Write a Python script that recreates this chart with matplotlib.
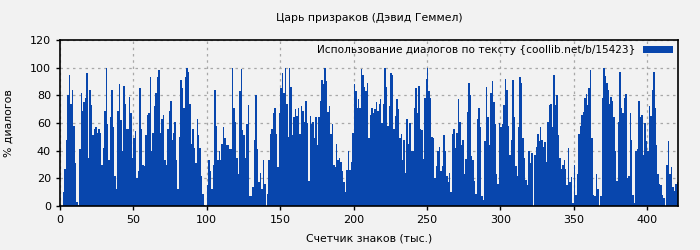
import numpy as np
import matplotlib
matplotlib.use("Agg")
import matplotlib.pyplot as plt

# % of dialogue per 1000 characters, bars start at 2 thousand chars
first_k = 2
dialog_pct = [
    10, 27, 48, 80, 95, 74, 84, 58, 31, 3,
    1, 41, 82, 69, 75, 78, 96, 35, 84, 73,
    51, 56, 57, 53, 56, 53, 30, 42, 69, 100,
    59, 33, 64, 84, 57, 22, 12, 69, 88, 62,
    40, 87, 74, 56, 56, 79, 67, 35, 49, 54,
    20, 25, 85, 56, 30, 29, 51, 66, 67, 93,
    40, 53, 72, 82, 93, 98, 53, 63, 66, 33,
    30, 56, 69, 76, 48, 53, 61, 33, 12, 50,
    91, 85, 71, 93, 100, 97, 74, 45, 56, 42,
    31, 63, 51, 42, 22, 9, 1, 0,
    # 100..140
    15, 33, 25, 12, 30, 84, 58, 33, 40, 33,
    45, 57, 49, 44, 44, 41, 41, 100, 71, 61,
    35, 23, 83, 99, 55, 51, 35, 59, 73, 7,
    7, 14, 48, 80, 41, 17, 24, 12, 33, 16,
    0,
    # 141..210
    9, 33, 52, 56, 67, 71, 52, 28, 67, 85,
    96, 82, 100, 74, 50, 100, 86, 51, 64, 70,
    65, 71, 52, 72, 69, 61, 76, 60, 18, 65,
    59, 61, 49, 64, 44, 64, 76, 91, 88, 100,
    90, 68, 72, 52, 59, 30, 28, 45, 33, 35,
    32, 25, 17, 10, 26, 40, 26, 32, 53, 88,
    83, 71, 77, 71, 99, 95, 86, 83, 89, 49,
    # 211..280
    66, 71, 67, 70, 75, 69, 74, 77, 60, 74,
    100, 86, 58, 72, 96, 95, 56, 65, 77, 70,
    49, 52, 33, 48, 24, 63, 45, 60, 40, 40,
    71, 85, 67, 87, 56, 55, 34, 78, 92, 100,
    83, 78, 50, 49, 20, 29, 40, 43, 25, 29,
    51, 40, 22, 17, 24, 10, 52, 56, 42, 53,
    77, 61, 44, 48, 23, 34, 68, 89, 80, 36,
    # 281..350
    33, 18, 9, 63, 71, 57, 7, 4, 47, 86,
    64, 44, 82, 90, 75, 59, 23, 16, 60, 57,
    59, 73, 92, 84, 58, 37, 48, 91, 64, 29,
    22, 57, 93, 89, 49, 35, 19, 15, 40, 31,
    38, 0, 37, 43, 52, 47, 57, 48, 43, 46,
    32, 61, 73, 74, 57, 95, 73, 80, 51, 35,
    27, 30, 33, 27, 15, 42, 17, 21, 2, 30,
    # 351..420
    8, 23, 52, 58, 66, 68, 78, 81, 73, 85,
    98, 49, 8, 7, 23, 12, 0, 7, 78, 100,
    94, 89, 84, 74, 79, 76, 64, 40, 18, 61,
    97, 71, 67, 78, 81, 20, 22, 67, 48, 8,
    2, 40, 41, 76, 64, 66, 37, 60, 47, 40,
    72, 65, 84, 97, 71, 44, 23, 16, 15, 8,
    6, 0, 30, 47, 23, 28, 14, 11, 16, 17,
]
x_ticks = [0, 50, 100, 150, 200, 250, 300, 350, 400]
y_ticks = [0, 20, 40, 60, 80, 100, 120]

title = "Царь призраков (Дэвид Геммел)"
legend_label = "Использование диалогов по тексту {coollib.net/b/15423}"
bg = "#f2f2f2"
bar_color = "#0846ad"

fig = plt.figure(figsize=(7, 2.5), dpi=100, facecolor=bg)
ax = fig.add_axes([60 / 700, 44 / 250, 618 / 700, 166 / 250], facecolor=bg)

xs = np.arange(first_k, first_k + len(dialog_pct))
ax.bar(xs, dialog_pct, width=1.0, align="edge", color=bar_color,
       linewidth=0, label=legend_label, zorder=2)

ax.set_xlim(0, 421)
ax.set_ylim(0, 120)
ax.set_xticks(x_ticks)
ax.set_yticks(y_ticks)
ax.tick_params(labelsize=8, length=3, width=1)
ax.grid(True, color="#a8a8a8", linestyle=(0, (2, 3)), linewidth=0.9, zorder=0)
for s in ax.spines.values():
    s.set_linewidth(1.2)

ax.set_title(title, fontsize=7.8, pad=14)
ax.set_xlabel("Счетчик знаков (тыс.)", fontsize=7.8, labelpad=6)
ax.set_ylabel("% диалогов", fontsize=7.8, labelpad=12)

leg = ax.legend(loc="upper right", frameon=False, fontsize=7.6, markerfirst=False,
                handlelength=2.8, handleheight=0.6, borderaxespad=0.1,
                handletextpad=0.7)

fig.savefig("out.png", dpi=100, facecolor=bg)
